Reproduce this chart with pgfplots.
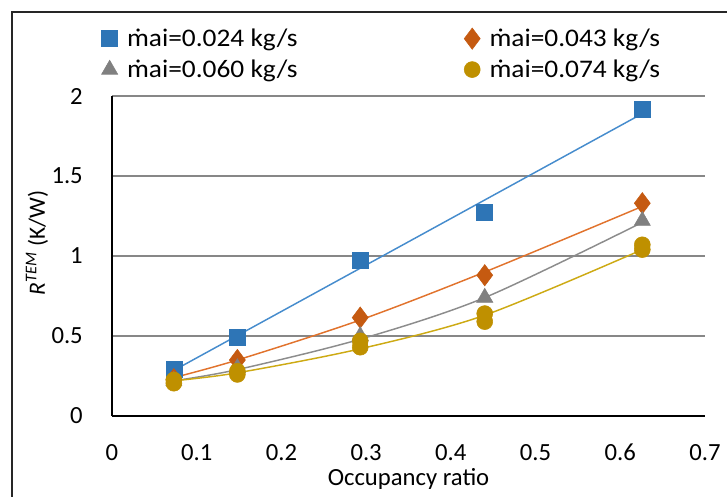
\documentclass[border=0pt]{standalone}
\usepackage{fontspec}
\setmainfont{Carlito}
\usepackage{pgfplots}
\pgfplotsset{compat=1.18}
\definecolor{cblue}{RGB}{46,117,182}
\definecolor{cblueL}{RGB}{70,140,205}
\definecolor{corange}{RGB}{197,90,17}
\definecolor{corangeL}{RGB}{225,115,45}
\definecolor{cgray}{RGB}{128,128,128}
\definecolor{cgrayL}{RGB}{140,140,140}
\definecolor{cgold}{RGB}{191,144,0}
\definecolor{cgoldL}{RGB}{205,170,20}
\definecolor{cgrid}{RGB}{135,135,135}
\pgfplotsset{mylegimg/.style={legend image code/.code={\draw[##1] plot coordinates {(0.3cm,0pt)};}}}
\newcommand{\leg}[1]{\scalebox{1.08}[1]{#1}}
\begin{document}
\begin{tikzpicture}
\useasboundingbox (0,0) rectangle (545.25pt,-372pt);
\draw[line width=1.4pt, black!85] (9pt,-380pt) -- (9pt,-9pt) -- (550pt,-9pt);
\begin{axis}[
  at={(84pt,-312pt)}, anchor=south west, scale only axis,
  width=444.75pt, height=240pt,
  xmin=0, xmax=0.7, ymin=0, ymax=2,
  xtick={0,0.1,0.2,0.3,0.4,0.5,0.6,0.7},
  xticklabels={0,0.1,0.2,0.3,0.4,0.5,0.6,0.7},
  ytick={0,0.5,1,1.5,2},
  yticklabels={0,0.5,1,1.5,2},
  major tick length=0pt,
  axis lines*=left,
  axis line style={-, line width=1.5pt, black},
  ymajorgrids, grid style={cgrid, line width=1.5pt},
  xticklabel style={font=\fontsize{18.5}{22}\selectfont, anchor=base, inner sep=0pt, yshift=-33.5pt},
  yticklabel style={font=\fontsize{18.5}{22}\selectfont, anchor=east, inner sep=0pt, xshift=-21.75pt},
  xlabel={Occupancy ratio},
  ylabel={\textit{R}\textsuperscript{\textit{TEM}} (K/W)},
  every axis x label/.style={at={(axis description cs:0.5,-0.216)}, anchor=base, inner sep=0pt, font=\fontsize{18.5}{22}\selectfont},
  every axis y label/.style={at={(axis description cs:-0.1265,0.54)}, rotate=90, anchor=center, inner sep=0pt, font=\fontsize{17.5}{21}\selectfont},
  legend columns=2,
  legend cell align=left,
  legend style={at={(axis description cs:-0.018,1.219)}, anchor=north west, draw=none, fill=none,
    inner sep=0pt, row sep=4.5pt,
    font=\fontsize{19}{21}\selectfont,
    /tikz/every odd column/.append style={column sep=5pt},
    /tikz/every even column/.append style={column sep=123pt}},
  clip=false,
]
% trend lines
\addplot[cblueL, line width=1.1pt, forget plot] coordinates {(0.073,0.285) (0.626,1.89)};
\addplot[corangeL, line width=1.1pt, smooth, forget plot] coordinates {(0.073,0.24) (0.148,0.35) (0.293,0.60) (0.44,0.90) (0.626,1.31)};
\addplot[cgrayL, line width=1.1pt, smooth, forget plot] coordinates {(0.073,0.22) (0.148,0.29) (0.293,0.48) (0.44,0.74) (0.626,1.21)};
\addplot[cgoldL, line width=1.1pt, smooth, forget plot] coordinates {(0.073,0.22) (0.148,0.27) (0.293,0.42) (0.44,0.63) (0.626,1.04)};
% markers
\addplot[only marks, mark=square*, mark size=6pt, color=cblue, mylegimg]
  coordinates {(0.073,0.29) (0.148,0.49) (0.293,0.975) (0.44,1.275) (0.626,1.92)};
\addlegendentry{\leg{ṁai=0.024 kg/s}}
\addplot[only marks, mark=diamond*, mark size=8pt, color=corange, mylegimg]
  coordinates {(0.073,0.23) (0.148,0.35) (0.293,0.615) (0.44,0.88) (0.626,1.33)};
\addlegendentry{\leg{ṁai=0.043 kg/s}}
\addplot[only marks, mark=triangle*, mark size=7pt, color=cgray, mylegimg]
  coordinates {(0.073,0.22) (0.148,0.30) (0.293,0.50) (0.44,0.74) (0.626,1.22)};
\addlegendentry{\leg{ṁai=0.060 kg/s}}
\addplot[only marks, mark=*, mark size=6pt, color=cgold, mylegimg]
  coordinates {(0.073,0.205) (0.073,0.225) (0.148,0.26) (0.148,0.28) (0.293,0.43) (0.293,0.47) (0.44,0.59) (0.44,0.64) (0.626,1.04) (0.626,1.07)};
\addlegendentry{\leg{ṁai=0.074 kg/s}}
\end{axis}
\end{tikzpicture}
\end{document}
